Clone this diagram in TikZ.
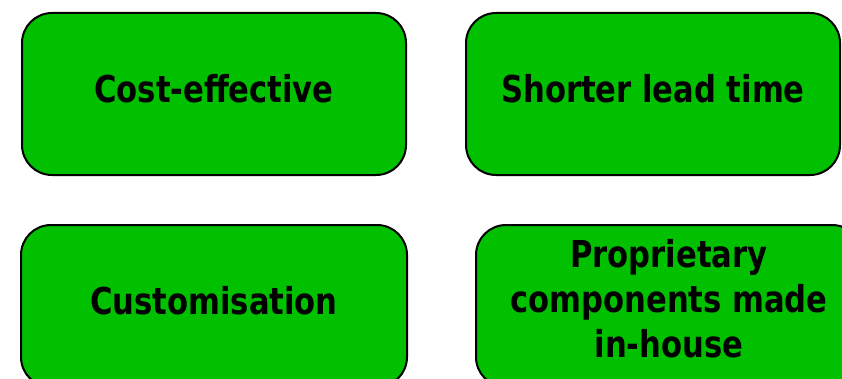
\documentclass[tikz,border=0pt]{standalone}
\usepackage{fontspec}
\newfontfamily\boxfont{DejaVu Sans Condensed}[BoldFont={DejaVu Sans Condensed Bold}, FakeStretch=0.92]
\usetikzlibrary{positioning}
\definecolor{boxgreen}{RGB}{0,192,0}

\begin{document}
\begin{tikzpicture}[
        x=1pt,
        y=1pt,
        benefit/.style={
            draw,
            line width=2pt,
            fill=boxgreen,
            rounded corners=30pt,
            minimum width=384pt,
            minimum height=162pt,
            inner sep=0pt,
            align=center,
            font=\boxfont\bfseries\fontsize{37}{45}\selectfont,
        },
        oneline/.style={
            text height=27pt,
            text depth=10pt,
        },
    ]
    \useasboundingbox (0, 0) rectangle (842, 378);

    % Top row.
    \node[benefit, oneline] (cost) at (214, 284) {Cost-effective};
    \node[benefit, oneline, minimum width=374pt, right=58 of cost] (lead) {Shorter lead time};

    % Bottom row.
    \node[benefit, oneline, minimum width=386pt, below=48 of cost] (custom) {Customisation};
    \node[benefit, text depth=16pt, minimum width=386pt, right=67 of custom] (inhouse) {Proprietary\\components made\\in-house};

\end{tikzpicture}
\end{document}
